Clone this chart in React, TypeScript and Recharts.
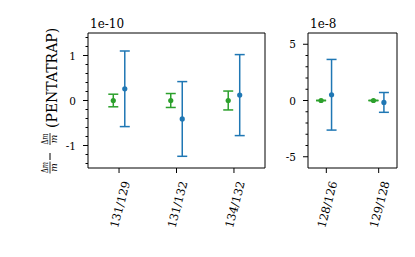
import React from 'react';
import { ScatterChart, Scatter, XAxis, YAxis, ErrorBar, ReferenceArea } from 'recharts';

const FONT = '"DejaVu Serif", serif';
const GREEN = '#2ca02c';
const BLUE = '#1f77b4';
const SHIFT = 0.1;

// left panel, units of 1e-10
const leftCategories = ['131/129', '131/132', '134/132'];
const leftGreenValues = [0, 0, 0];
const leftGreenErrors = [0.14, 0.155, 0.21];
const leftBlueValues = [0.26, -0.41, 0.12];
const leftBlueErrors = [0.84, 0.83, 0.9];
const leftMajorTicks = [-1, 0, 1];
const leftAllTicks = [-1.4, -1.2, -1, -0.8, -0.6, -0.4, -0.2, 0, 0.2, 0.4, 0.6, 0.8, 1, 1.2, 1.4];

// right panel, units of 1e-8
const rightCategories = ['128/126', '129/128'];
const rightGreenValues = [0, 0];
const rightGreenErrors = [0.02, 0.02];
const rightBlueValues = [0.51, -0.17];
const rightBlueErrors = [3.14, 0.88];
const rightMajorTicks = [-5, 0, 5];
const rightAllTicks = [-5, -4, -3, -2, -1, 0, 1, 2, 3, 4, 5];

const toRows = (values: number[], errors: number[], shift: number) =>
  values.map((y, i) => ({ x: i + shift, y, err: errors[i] }));

function YTick(props: any) {
  const { x, y, payload, majors } = props;
  const major = majors.includes(payload.value);
  const len = major ? 5 : 2.5;
  return (
    <g>
      <line x1={x - len} x2={x} y1={y} y2={y} stroke="#000" strokeWidth={1} />
      {major && (
        <text x={x - len - 7} y={y} textAnchor="end" dominantBaseline="central" fontSize={10.5} fontFamily={FONT} fill="#000">
          {payload.value}
        </text>
      )}
    </g>
  );
}

function XTick(props: any) {
  const { x, y, payload, labels } = props;
  return (
    <text
      transform={`translate(${x + 1}, ${y + 29.5}) rotate(-75)`}
      textAnchor="middle"
      dominantBaseline="central"
      fontSize={11.5}
      fontFamily={FONT}
      fill="#000"
    >
      {labels[payload.value]}
    </text>
  );
}

function Frac({ x }: { x: number }) {
  return (
    <g>
      <text x={x} y={-2} fontSize={9} textAnchor="middle" textLength={11} lengthAdjust="spacingAndGlyphs">
        Δ<tspan fontStyle="italic">m</tspan>
      </text>
      <line x1={x - 6} x2={x + 6} y1={0} y2={0} stroke="#000" strokeWidth={0.8} />
      <text x={x} y={7} fontSize={9} textAnchor="middle" fontStyle="italic">m</text>
    </g>
  );
}

function YLabel({ cx, cy }: { cx: number; cy: number }) {
  return (
    <g transform={`translate(${cx}, ${cy}) rotate(-90)`} fontFamily={FONT} fill="#000">
      <Frac x={-67} />
      <line x1={-59.5} x2={-52.5} y1={0} y2={0} stroke="#000" strokeWidth={1} />
      <Frac x={-38.5} />
      <text x={-27.5} y={7} fontSize={14}>(PENTATRAP)</text>
    </g>
  );
}

function Panel(props: any) {
  const {
    width, yAxisWidth, marginRight, xDomain, yDomain, categories, majors, allTicks,
    greenValues, greenErrors, blueValues, blueErrors, offsetText, showLabel,
  } = props;
  const greenRows = toRows(greenValues, greenErrors, -SHIFT);
  const blueRows = toRows(blueValues, blueErrors, SHIFT);
  return (
    <ScatterChart width={width} height={257} margin={{ top: 33, right: marginRight, bottom: 0, left: 0 }}>
      <XAxis
        type="number"
        dataKey="x"
        domain={xDomain}
        ticks={categories.map((_: string, i: number) => i)}
        interval={0}
        allowDataOverflow
        axisLine={false}
        tickSize={5}
        tickLine={{ stroke: '#000', strokeWidth: 1 }}
        height={89}
        tick={(p: any) => <XTick {...p} labels={categories} />}
      />
      <YAxis
        type="number"
        dataKey="y"
        domain={yDomain}
        ticks={allTicks}
        interval={0}
        allowDataOverflow
        axisLine={false}
        tickLine={false}
        tickSize={0}
        tickMargin={0}
        width={yAxisWidth}
        tick={(p: any) => <YTick {...p} majors={majors} />}
        label={showLabel ? { content: (p: any) => <YLabel cx={50} cy={p.viewBox.y + p.viewBox.height / 2} /> } : undefined}
      />
      <ReferenceArea
        x1={xDomain[0]}
        x2={xDomain[1]}
        y1={yDomain[0]}
        y2={yDomain[1]}
        fill="none"
        stroke="#000"
        strokeWidth={1}
        ifOverflow="visible"
        label={{
          content: (p: any) => (
            <text x={p.viewBox.x + 2} y={p.viewBox.y - 5} fontSize={12} fontFamily={FONT} fill="#000">
              {offsetText}
            </text>
          ),
        }}
      />
      <Scatter
        data={greenRows}
        dataKey="y"
        isAnimationActive={false}
        shape={(p: any) => <circle cx={p.cx} cy={p.cy} r={2.6} fill={GREEN} />}
      >
        <ErrorBar dataKey="err" direction="y" width={5} stroke={GREEN} strokeWidth={1.5} isAnimationActive={false} />
      </Scatter>
      <Scatter
        data={blueRows}
        dataKey="y"
        isAnimationActive={false}
        shape={(p: any) => <circle cx={p.cx} cy={p.cy} r={2.6} fill={BLUE} />}
      >
        <ErrorBar dataKey="err" direction="y" width={5} stroke={BLUE} strokeWidth={1.5} isAnimationActive={false} />
      </Scatter>
    </ScatterChart>
  );
}

export default function App() {
  return (
    <div style={{ position: 'absolute', left: 0, top: 0, width: 415, height: 257, background: '#fff', display: 'flex' }}>
      <Panel
        width={280}
        yAxisWidth={88}
        marginRight={15}
        xDomain={[-0.54, 2.54]}
        yDomain={[-1.5, 1.5]}
        categories={leftCategories}
        majors={leftMajorTicks}
        allTicks={leftAllTicks}
        greenValues={leftGreenValues}
        greenErrors={leftGreenErrors}
        blueValues={leftBlueValues}
        blueErrors={leftBlueErrors}
        offsetText="1e-10"
        showLabel
      />
      <Panel
        width={135}
        yAxisWidth={28}
        marginRight={18}
        xDomain={[-0.35, 1.35]}
        yDomain={[-6, 6]}
        categories={rightCategories}
        majors={rightMajorTicks}
        allTicks={rightAllTicks}
        greenValues={rightGreenValues}
        greenErrors={rightGreenErrors}
        blueValues={rightBlueValues}
        blueErrors={rightBlueErrors}
        offsetText="1e-8"
        showLabel={false}
      />
    </div>
  );
}
